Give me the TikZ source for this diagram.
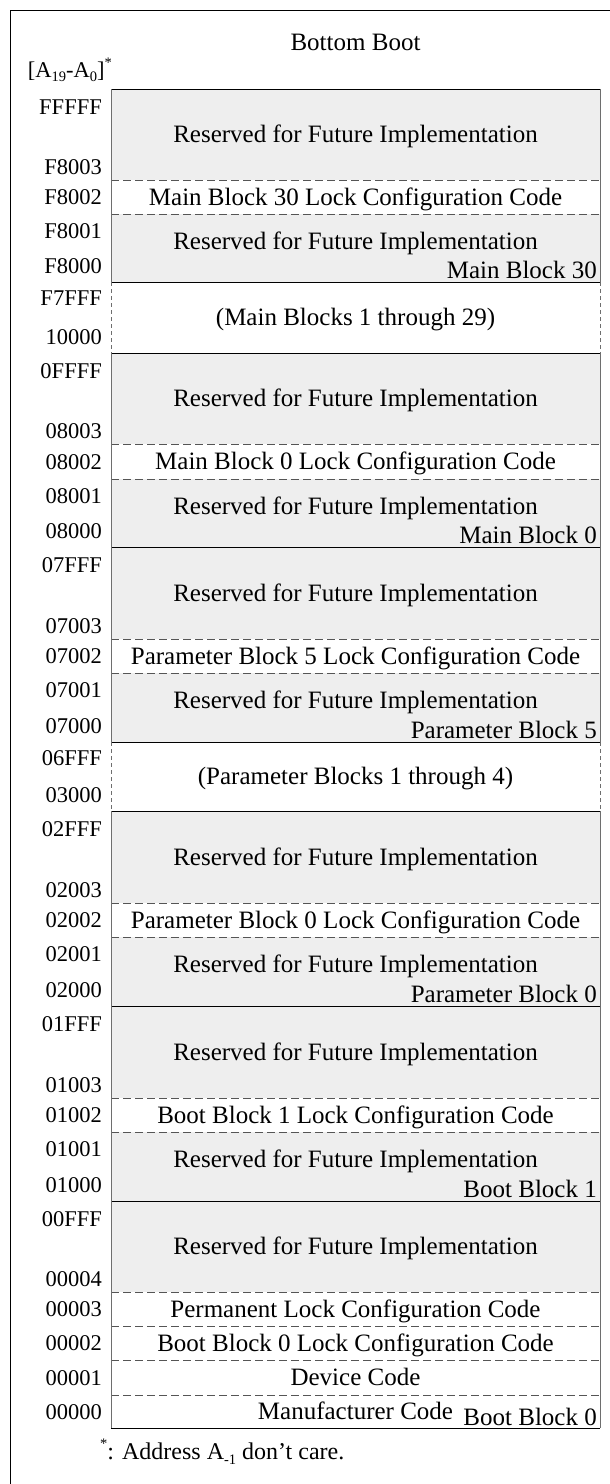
\documentclass[tikz,border=0pt]{standalone}
\usepackage{fontspec}
\setmainfont{Liberation Serif}
\definecolor{rsv}{RGB}{238,238,238}
\definecolor{sepgray}{RGB}{85,85,85}
\definecolor{sidegray}{RGB}{110,110,110}
\tikzset{
  maintxt/.style={font=\fontsize{25}{29}\selectfont, inner sep=0pt, anchor=base},
  nametxt/.style={font=\fontsize{25}{29}\selectfont, inner sep=0pt, anchor=base east},
  addr/.style={font=\fontsize{22.5}{26}\selectfont, inner sep=0pt, anchor=base east},
  solidsep/.style={draw=black, line width=1pt},
  dashsep/.style={draw=sepgray, line width=0.9pt, dash pattern=on 8pt off 4pt},
  sideline/.style={draw=sidegray, line width=1pt},
  gapside/.style={draw=sidegray, line width=0.8pt, dash pattern=on 4pt off 3pt},
  frameline/.style={draw=black, line width=1pt}
}
\newcommand{\smallsub}[1]{\raisebox{-0.22em}{\fontsize{14.5}{16}\selectfont #1}}
\newcommand{\smallsup}[1]{\raisebox{0.42em}{\fontsize{14.5}{16}\selectfont #1}}
% big reserved block: top, bottom, top address, bottom address
\newcommand{\rsvbig}[4]{%
  \fill[rsv] (111,#1) rectangle (600,#2);
  \node[maintxt] (r#3) at (355.5,{(#1+#2)/2+8}) {Reserved for Future Implementation};
  \node[addr] (a#3) at (102,{#1+25}) {#3};
  \node[addr] (a#4) at (102,{#2-6}) {#4};
}
% lock/code row: top, bottom, address, text
\newcommand{\coderow}[4]{%
  \node[maintxt] (t#3) at (355.5,{(#1+#2)/2+8}) {#4};
  \node[addr] (a#3) at (102,{(#1+#2)/2+7.5}) {#3};
}
% small reserved block: top, bottom, top addr, bottom addr, block name
\newcommand{\rsvsmall}[5]{%
  \fill[rsv] (111,#1) rectangle (600,#2);
  \node[maintxt] (r#3) at (355.5,{#1+35}) {Reserved for Future Implementation};
  \node[nametxt] (n#4) at (597,{#2-4}) {#5};
  \node[addr] (a#3) at (102,{#1+24}) {#3};
  \node[addr] (a#4) at (102,{#2-9}) {#4};
}
% gap row: top, bottom, top addr, bottom addr, text
\newcommand{\gaprow}[5]{%
  \node[maintxt] (g#3) at (355.5,{(#1+#2)/2+8}) {#5};
  \node[addr] (a#3) at (102,{#1+23}) {#3};
  \node[addr] (a#4) at (102,{#2-9}) {#4};
}
\begin{document}
\begin{tikzpicture}[x=1pt,y=-1pt]
\useasboundingbox (0,0) rectangle (610,1484);
\clip (0,0) rectangle (610,1484);
\fill[white] (0,0) rectangle (610,1484);
% outer frame (continues beyond the picture)
\draw[frameline] (10,1500) -- (10,10) -- (620,10);
% fills and texts
\rsvbig{89}{180}{FFFFF}{F8003}
\rsvsmall{214}{282}{F8001}{F8000}{Main Block 30}
\rsvbig{353}{444}{0FFFF}{08003}
\rsvsmall{479}{547}{08001}{08000}{Main Block 0}
\rsvbig{547}{639}{07FFF}{07003}
\rsvsmall{673}{742}{07001}{07000}{Parameter Block 5}
\rsvbig{811}{903}{02FFF}{02003}
\rsvsmall{937}{1006}{02001}{02000}{Parameter Block 0}
\rsvbig{1006}{1098}{01FFF}{01003}
\rsvsmall{1132}{1201}{01001}{01000}{Boot Block 1}
\rsvbig{1201}{1292}{00FFF}{00004}
\coderow{180}{214}{F8002}{Main Block 30 Lock Configuration Code}
\coderow{444}{479}{08002}{Main Block 0 Lock Configuration Code}
\coderow{639}{673}{07002}{Parameter Block 5 Lock Configuration Code}
\coderow{903}{937}{02002}{Parameter Block 0 Lock Configuration Code}
\coderow{1098}{1132}{01002}{Boot Block 1 Lock Configuration Code}
\coderow{1292}{1326}{00003}{Permanent Lock Configuration Code}
\coderow{1326}{1360}{00002}{Boot Block 0 Lock Configuration Code}
\coderow{1360}{1395}{00001}{Device Code}
\coderow{1395}{1428}{00000}{Manufacturer Code}
\node[nametxt] (nBB0) at (597,1425) {Boot Block 0};
\gaprow{282}{353}{F7FFF}{10000}{(Main Blocks 1 through 29)}
\gaprow{742}{811}{06FFF}{03000}{(Parameter Blocks 1 through 4)}
% separators
\foreach \yy in {180,214,444,479,639,673,903,937,1098,1132,1292,1326,1360,1395}
  \draw[dashsep] (111,\yy) -- (600,\yy);
\foreach \yy in {89,282,353,547,742,811,1006,1201,1428}
  \draw[solidsep] (111,\yy) -- (600,\yy);
% sides
\foreach \xx in {111,600}{
  \draw[sideline] (\xx,89) -- (\xx,282);
  \draw[gapside] (\xx,282) -- (\xx,353);
  \draw[sideline] (\xx,353) -- (\xx,742);
  \draw[gapside] (\xx,742) -- (\xx,811);
  \draw[sideline] (\xx,811) -- (\xx,1428);
}
% headings
\node[maintxt] (title) at (355.5,50) {Bottom Boot};
\node[addr] (range) at (112,77) {[A\smallsub{19}-A\smallsub{0}]\smallsup{*}};
\node[font=\fontsize{24}{28}\selectfont, inner sep=0pt, anchor=base west] (note) at (100,1459)
  {\smallsup{*}: Address A\smallsub{-1} don’t care.};
\end{tikzpicture}
\end{document}
